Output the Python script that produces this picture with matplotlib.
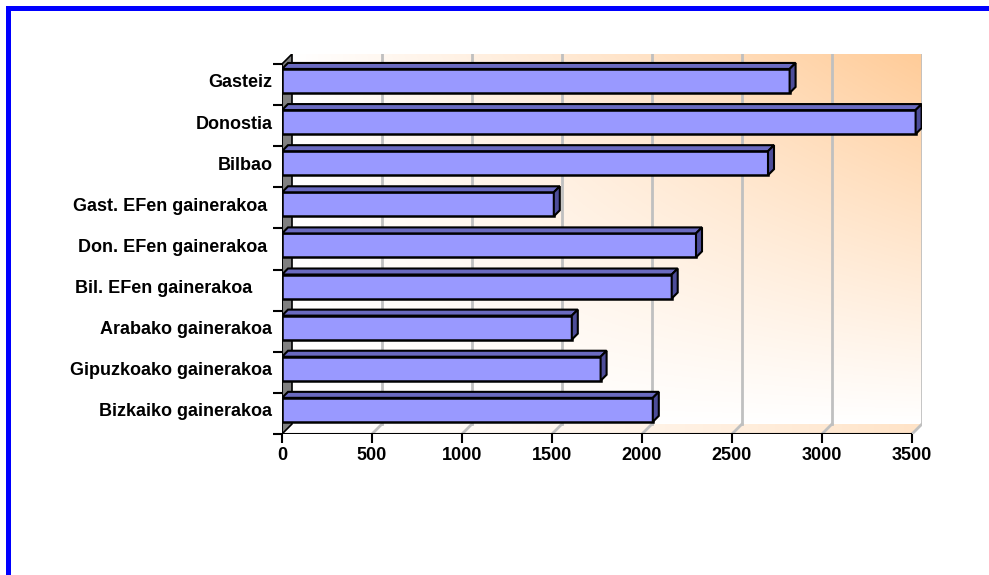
import numpy as np
import matplotlib.pyplot as plt
from matplotlib.patches import Polygon, Rectangle

# --- dados ---
categories = ["Gasteiz", "Donostia", "Bilbao", "Gast. EFen gainerakoa ",
              "Don. EFen gainerakoa ", "Bil. EFen gainerakoa    ",
              "Arabako gainerakoa", "Gipuzkoako gainerakoa", "Bizkaiko gainerakoa"]
values = [2820, 3520, 2700, 1510, 2300, 2165, 1610, 1770, 2060]
x_ticks = [0, 500, 1000, 1500, 2000, 2500, 3000, 3500]

plt.rcParams['font.family'] = ['Liberation Sans', 'DejaVu Sans']
plt.rcParams['font.weight'] = 'bold'

W, H = 989, 575
XMAX = 3500
n = len(categories)

# geometria (pixels) do plano frontal
front_l, front_r, front_t, front_b = 282, 912, 64, 434
ux = (front_r - front_l) / XMAX      # px por unidade
uy = (front_b - front_t) / n         # px por categoria
wdx, wdy = 10 / ux, 10 / uy          # profundidade das paredes
bdx, bdy = 6 / ux, 6 / uy            # profundidade das barras
bar_h = 24 / uy
bar_shift = -3.6 / uy

fig = plt.figure(figsize=(W / 100, H / 100), dpi=100)
ax = fig.add_axes([front_l / W, 1 - front_b / H,
                   (front_r + 10 - front_l) / W, (front_b - front_t + 10) / H])
ax.set_xlim(0, XMAX + wdx)
ax.set_ylim(n - 0.5, -0.5 - wdy)
for s in ax.spines.values():
    s.set_visible(False)
ax.patch.set_visible(False)

# parede de fundo com gradiente
gy, gx = np.mgrid[0:1:200j, 0:1:200j]
t = gx * (1 - gy)
orange = np.array([255, 204, 153]) / 255
img = (1 - t[..., None]) * np.ones(3) + t[..., None] * orange
ax.imshow(img, extent=(wdx, XMAX + wdx, n - 0.5 - wdy, -0.5 - wdy),
          origin='upper', aspect='auto', zorder=0, interpolation='bilinear')

# chão
fy, fx = np.mgrid[0:1:10j, 0:1:200j]
tf = 0.55 * fx ** 1.5
fimg = (1 - tf[..., None]) * np.ones(3) + tf[..., None] * orange
floor = Polygon([(0, n - 0.5), (XMAX, n - 0.5), (XMAX + wdx, n - 0.5 - wdy),
                 (wdx, n - 0.5 - wdy)], closed=True, fc='none', ec='none')
ax.add_patch(floor)
fim = ax.imshow(fimg, extent=(0, XMAX + wdx, n - 0.5, n - 0.5 - wdy),
                origin='upper', aspect='auto', zorder=0.5)
fim.set_clip_path(floor)

# grelha
for xt in x_ticks[1:]:
    ax.plot([xt + wdx, xt + wdx], [-0.5 - wdy, n - 0.5 - wdy], color='#C0C0C0', lw=2, zorder=1)
    ax.plot([xt, xt + wdx], [n - 0.5, n - 0.5 - wdy], color='#C0C0C0', lw=2, zorder=1)

# parede esquerda
ax.add_patch(Polygon([(0, -0.5), (0, n - 0.5), (wdx, n - 0.5 - wdy), (wdx, -0.5 - wdy)],
                     closed=True, fc='#808080', ec='black', lw=1.2, zorder=1.5))

# eixos frontais
ax.plot([0, 0], [-0.5, n - 0.5], color='black', lw=1.5, zorder=2, solid_capstyle='butt')
ax.plot([0, XMAX], [n - 0.5, n - 0.5], color='black', lw=1.5, zorder=2, solid_capstyle='butt')

# barras
y_pos = np.arange(n) + bar_shift
ax.barh(y_pos, values, height=bar_h, color='#9999FF', edgecolor='black', lw=1.8, zorder=3)
for yc, v in zip(y_pos, values):
    yt, yb = yc - bar_h / 2, yc + bar_h / 2
    ax.add_patch(Polygon([(0, yt), (v, yt), (v + bdx, yt - bdy), (bdx, yt - bdy)],
                         closed=True, fc='#6A6AC0', ec='black', lw=1.5, zorder=3))
    ax.add_patch(Polygon([(v, yt), (v, yb), (v + bdx, yb - bdy), (v + bdx, yt - bdy)],
                         closed=True, fc='#4D4D99', ec='black', lw=1.5, zorder=3))

# ticks
ax.set_yticks(y_pos)
ax.set_yticklabels(categories, fontsize=13, fontweight='bold')
ax.set_yticks(np.arange(-0.5, n, 1), minor=True)
ax.tick_params(axis='y', which='major', length=0, pad=7)
ax.tick_params(axis='y', which='minor', length=6.5, width=1.5, color='black')
ax.set_xticks(x_ticks)
ax.set_xticklabels([str(v) for v in x_ticks], fontsize=13, fontweight='bold')
ax.tick_params(axis='x', length=6.5, width=1.5, pad=3)

# moldura azul
fig.add_artist(Rectangle((7.5 / W, -1), 2, 2 - 7.5 / H, transform=fig.transFigure,
                         fill=False, edgecolor='#0000FF', lw=5 * 0.72))

fig.savefig("out.png", dpi=100)
